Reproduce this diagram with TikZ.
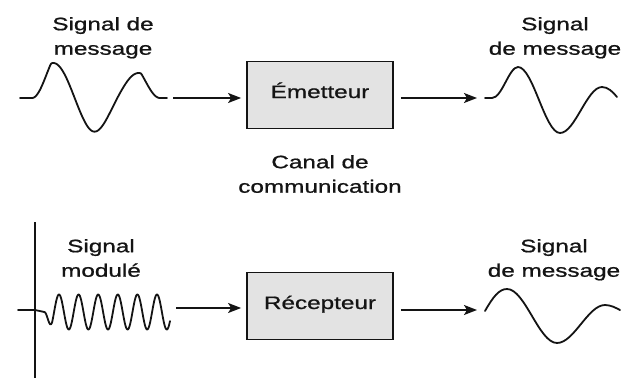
\documentclass[tikz,border=0pt]{standalone}
\usepackage{fontspec}
\setmainfont[FakeStretch=1.35,FakeBold=0.9]{Liberation Sans}
\usetikzlibrary{arrows.meta}
\definecolor{boxfill}{HTML}{E3E3E3}
\definecolor{ink}{HTML}{141414}
\begin{document}
\begin{tikzpicture}[x=1pt,y=-1pt,
  font=\fontsize{18}{24.5}\selectfont,
  wave/.style={line width=1.8pt, line join=round, line cap=round, draw=ink},
  conn/.style={line width=1.4pt, draw=ink, -{Stealth[length=13pt,width=10pt,inset=3pt]}},
  blockbox/.style={draw=ink, line width=1.8pt, fill=boxfill, minimum width=146pt,
    minimum height=67pt, inner sep=0pt, text height=12pt, text depth=6pt, text=ink},
  lbl/.style={align=center, inner sep=0pt, text=ink, anchor=north},
  declare function={smst(\t)=min(1,max(0,\t))*min(1,max(0,\t))*(3-2*min(1,max(0,\t)));}]
\useasboundingbox[fill=white] (0,0) rectangle (625,378);

% labels
\node[lbl] (l1) at (103,17) {Signal de\\message};
\node[lbl] (l2) at (555,17) {Signal\\de message};
\node[lbl] (l3) at (320,155) {Canal de\\communication};
\node[lbl] (l4) at (101,239) {Signal\\modulé};
\node[lbl] (l5) at (554,239) {Signal\\de message};

% blocks
\node[blockbox] (em) at (320,95) {Émetteur};
\node[blockbox] (rc) at (320,306) {Récepteur};

% top left wave
\coordinate (w1s) at (20,98);
\coordinate (a1) at (173,98);
\draw[wave] (w1s) -- (32,98)
  -- plot[domain=0:540, samples=120] ({32+\x/540*128},{98-(35-10*smst((\x-230)/160))*min(1,\x/80)*min(1,(540-\x)/80)*sin(\x)})
  -- (167,98);

% top right wave
\coordinate (w2s) at (477,98);
\draw[wave] (485,98) -- (492,98)
  .. controls (502,98) and (509,67) .. (518,67)
  .. controls (533,67) and (545,133) .. (560,133)
  .. controls (575,133) and (587,87) .. (602,87)
  .. controls (608,87) and (613,92) .. (617,97);

% bottom left: axis and modulated wave
\coordinate (ax1) at (35,222);
\coordinate (ax2) at (35,378);
\draw[line width=1.6pt, draw=ink] (ax1) -- (ax2);
\coordinate (a3) at (176,308);
\draw[wave] (18,310) -- (35,310) -- (44.3,312)
  -- plot[domain=44.3:170, samples=260] (\x,{312-17.5*min(1,(\x-44.3)/8)*sin((\x-59)/19.6*360+90)});

% bottom right wave
\coordinate (w4s) at (477,310);
\draw[wave] (485,311)
  .. controls (493,297) and (499,289) .. (507,289)
  .. controls (525,289) and (539,343) .. (557,343)
  .. controls (574,343) and (588,305) .. (605,305)
  .. controls (611,305) and (616,308) .. (620,310);

% connectors
\draw[conn, shorten >=5pt] (a1) -- (em.west |- a1);
\draw[conn, shorten <=7pt] (em.east |- w2s) -- (w2s);
\draw[conn, shorten >=5pt] (a3) -- (rc.west |- a3);
\draw[conn, shorten <=7pt] (rc.east |- w4s) -- (w4s);
\end{tikzpicture}
\end{document}
